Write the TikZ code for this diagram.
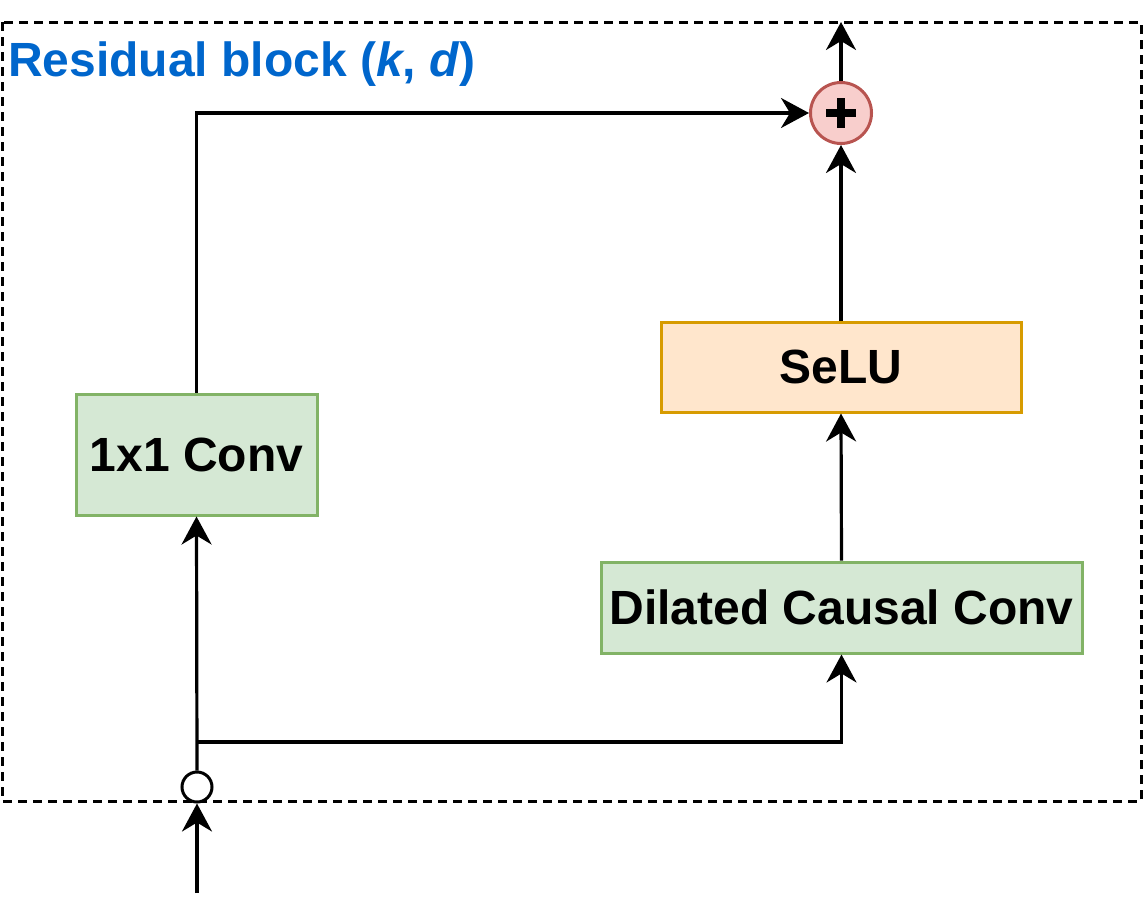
\documentclass[tikz,border=0pt]{standalone}
\usepackage{fontspec}
\setmainfont{Liberation Sans}
\usetikzlibrary{arrows.meta}
\definecolor{titleblue}{HTML}{0066CC}
\definecolor{gfill}{HTML}{D5E8D4}
\definecolor{gdraw}{HTML}{82B366}
\definecolor{ofill}{HTML}{FFE6CC}
\definecolor{odraw}{HTML}{D79B00}
\definecolor{rfill}{HTML}{F8CECC}
\definecolor{rdraw}{HTML}{B85450}
\tikzset{
  conn/.style={line width=3.2pt, -{Stealth[length=28pt, width=30pt, inset=9pt]}},
  boxstyle/.style={rectangle, line width=3pt, inner sep=0pt, font=\fontsize{48}{56}\selectfont\bfseries},
  greenbox/.style={boxstyle, fill=gfill, draw=gdraw},
  orangebox/.style={boxstyle, fill=ofill, draw=odraw},
}
\begin{document}
\begin{tikzpicture}[x=1pt, y=-1pt]
\useasboundingbox (0,0) rectangle (1143,921);
% dashed frame
\draw[line width=3pt, dash pattern=on 9pt off 6pt] (2,22) rectangle (1141,801);
\node[anchor=base west, text=titleblue, font=\fontsize{48}{56}\selectfont\bfseries, inner sep=0pt] (title) at (8,76) {Residual block (\textit{k}, \textit{d})};
% nodes
\node[greenbox, minimum width=241pt, minimum height=121pt] (conv1) at (196.5,454.5) {1x1 Conv};
\node[orangebox, minimum width=360pt, minimum height=90pt] (selu) at (841,367) {SeLU};
\node[greenbox, minimum width=481pt, minimum height=91pt] (dil) at (841.5,607.5) {Dilated Causal Conv};
\node[circle, fill=rfill, draw=rdraw, line width=3pt, minimum size=61pt, inner sep=0pt] (plus) at (841,113) {};
\fill (plus.center) +(-15,-4) rectangle +(15,4);
\fill (plus.center) +(-4,-15) rectangle +(4,15);
\node[circle, fill=white, draw=black, line width=3pt, minimum size=30pt, inner sep=0pt] (inp) at (197,787) {};
\coordinate (src) at (197,893);
\coordinate (out) at (841,22);
\coordinate (split) at (197,742);
% connectors
\draw[conn] (src) -- (inp.south);
\draw[conn] (inp.north) -- (conv1.south);
\draw[conn] (split) -| (dil.south);
\draw[conn] (dil.north) -- (selu.south);
\draw[conn] (selu.north) -- (plus.south);
\draw[conn] (conv1.north) |- (plus.west);
\draw[conn] (plus.north) -- (out);
\end{tikzpicture}
\end{document}
